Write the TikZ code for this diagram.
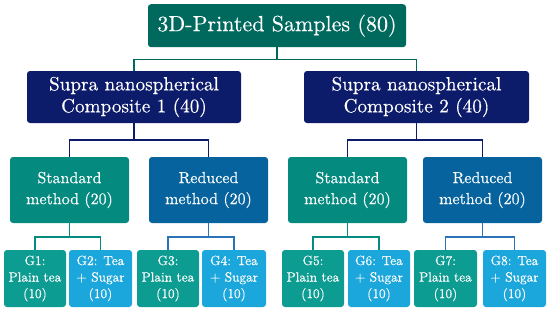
\documentclass[tikz,border=0pt]{standalone}
\usepackage{fontspec}
\setmainfont{lmroman10-regular.otf}[FakeBold=0.3]
\definecolor{topc}{HTML}{00695E}
\definecolor{navyc}{HTML}{0D1B6B}
\definecolor{stdc}{HTML}{058A80}
\definecolor{redc}{HTML}{06639E}
\definecolor{plainc}{HTML}{0C9C91}
\definecolor{sugarc}{HTML}{1BA6DC}
\definecolor{redline}{HTML}{2A73B8}
\tikzset{
  box/.style={rounded corners=3pt, inner sep=0pt, text=white, align=center},
  topbox/.style={box, fill=topc, minimum width=258pt, minimum height=43pt, font=\fontsize{22}{24}\selectfont},
  compbox/.style={box, fill=navyc, minimum height=52pt, font=\fontsize{19.2}{22}\selectfont},
  stdbox/.style={box, fill=stdc, minimum width=119pt, minimum height=66pt, font=\fontsize{16}{21}\selectfont},
  redbox/.style={box, fill=redc, minimum width=119pt, minimum height=66pt, font=\fontsize{16}{21}\selectfont},
  plainbox/.style={box, fill=plainc, minimum height=57pt, font=\fontsize{13.3}{16.5}\selectfont},
  sugarbox/.style={box, fill=sugarc, minimum height=57pt, font=\fontsize{13.3}{16.5}\selectfont},
  link/.style={line width=1.4pt},
}
\begin{document}
\begin{tikzpicture}[x=1pt,y=-1pt]
\useasboundingbox (0,0) rectangle (550,311);
\node[topbox] (top) at (277,25.7) {3D-Printed Samples (80)};
\node[compbox, minimum width=214pt] (c1) at (134,97) {Supra nanospherical\\Composite 1 (40)};
\node[compbox, minimum width=225pt] (c2) at (416.5,97) {Supra nanospherical\\Composite 2 (40)};
\node[stdbox] (s1) at (69.5,190) {Standard\\method (20)};
\node[redbox] (r1) at (208.5,190) {Reduced\\method (20)};
\node[stdbox] (s2) at (347.5,190) {Standard\\method (20)};
\node[redbox] (r2) at (482.5,190) {Reduced\\method (20)};
\node[plainbox, minimum width=62pt] (g1) at (35,278.5) {G1:\\Plain tea\\(10)};
\node[sugarbox, minimum width=63pt] (g2) at (100.5,278.5) {G2: Tea\\+ Sugar\\(10)};
\node[plainbox, minimum width=62pt] (g3) at (168,278.5) {G3:\\Plain tea\\(10)};
\node[sugarbox, minimum width=64pt] (g4) at (234,278.5) {G4: Tea\\+ Sugar\\(10)};
\node[plainbox, minimum width=62pt] (g5) at (313,278.5) {G5:\\Plain tea\\(10)};
\node[sugarbox, minimum width=62pt] (g6) at (379,278.5) {G6: Tea\\+ Sugar\\(10)};
\node[plainbox, minimum width=63pt] (g7) at (445.5,278.5) {G7:\\Plain tea\\(10)};
\node[sugarbox, minimum width=63pt] (g8) at (514.5,278.5) {G8: Tea\\+ Sugar\\(10)};
% connectors
\coordinate (b0) at (277,59.5);
\draw[link, topc] (top.south) -- (b0) -| (c1.north);
\draw[link, topc] (b0) -| (c2.north);
\coordinate (b1) at (134,140);
\draw[link, navyc] (c1.south) -- (b1) -| (s1.north);
\draw[link, navyc] (b1) -| (r1.north);
\coordinate (b2) at (416.5,140);
\draw[link, navyc] (c2.south) -- (b2) -| (s2.north);
\draw[link, navyc] (b2) -| (r2.north);
\coordinate (b3) at (69.5,237);
\draw[link, stdc] (s1.south) -- (b3) -| (g1.north);
\draw[link, stdc] (b3) -| (g2.north);
\coordinate (b4) at (208.5,237);
\draw[link, redline] (r1.south) -- (b4) -| (g3.north);
\draw[link, redline] (b4) -| (g4.north);
\coordinate (b5) at (347.5,237);
\draw[link, stdc] (s2.south) -- (b5) -| (g5.north);
\draw[link, stdc] (b5) -| (g6.north);
\coordinate (b6) at (482.5,237);
\draw[link, redline] (r2.south) -- (b6) -| (g7.north);
\draw[link, redline] (b6) -| (g8.north);
\end{tikzpicture}
\end{document}
